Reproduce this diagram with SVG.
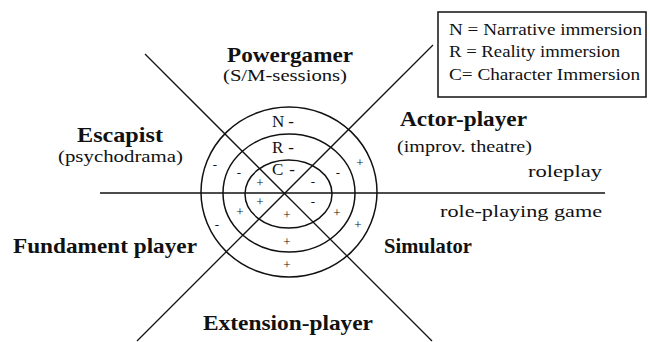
<svg xmlns="http://www.w3.org/2000/svg" width="650" height="342" viewBox="0 0 650 342" font-family="Liberation Serif, DejaVu Serif, serif">
<style>
.ln{stroke:#111;stroke-width:1.3;fill:none}
.rg{fill:none;stroke:#111;stroke-width:1.5}
.lb{font-weight:bold;font-size:21px;fill:#111}
.sb{font-size:17px;fill:#111}
.lg{font-size:16px;fill:#111}
.nrc{font-size:17px;fill:#111}
.pm{font-size:13px;text-anchor:middle;fill:#111}
</style>
<rect width="650" height="342" fill="#fff"/>
<g id="connectors">
<line class="ln" x1="100" y1="193" x2="605" y2="193"/>
<line class="ln" x1="145" y1="54" x2="432" y2="341"/>
<line class="ln" x1="433" y1="45" x2="137" y2="341"/>
</g>
<g id="rings">
<ellipse class="rg" cx="289" cy="192" rx="88" ry="85"/>
<ellipse class="rg" cx="289" cy="193" rx="66" ry="59"/>
<ellipse class="rg" cx="288.5" cy="194" rx="43.5" ry="34"/>
</g>
<g id="ring-labels">
<text class="nrc" x="272" y="127">N<tspan dx="4">-</tspan></text>
<text class="nrc" x="272" y="153">R<tspan dx="5">-</tspan></text>
<text class="nrc" x="272" y="175">C<tspan dx="6">-</tspan></text>
</g>
<g id="signs">
<text class="pm" x="215" y="169">-</text>
<text class="pm" x="239" y="177">-</text>
<text class="pm" x="260" y="187">+</text>
<text class="pm" x="260" y="206">+</text>
<text class="pm" x="240" y="216">+</text>
<text class="pm" x="217" y="229">-</text>
<text class="pm" x="287" y="219">+</text>
<text class="pm" x="287" y="246">+</text>
<text class="pm" x="287" y="269">+</text>
<text class="pm" x="313" y="186">-</text>
<text class="pm" x="313" y="206">-</text>
<text class="pm" x="338" y="177">-</text>
<text class="pm" x="337" y="217">+</text>
<text class="pm" x="360" y="167">+</text>
<text class="pm" x="358" y="229">+</text>
</g>
<g id="powergamer">
<text class="lb" x="227" y="62" textLength="126" lengthAdjust="spacingAndGlyphs">Powergamer</text>
<text class="sb" x="223" y="81" textLength="124" lengthAdjust="spacingAndGlyphs">(S/M-sessions)</text>
</g>
<g id="escapist">
<text class="lb" x="77" y="142" textLength="86" lengthAdjust="spacingAndGlyphs">Escapist</text>
<text class="sb" x="58" y="162" textLength="125" lengthAdjust="spacingAndGlyphs">(psychodrama)</text>
</g>
<g id="actor-player">
<text class="lb" x="400" y="126" textLength="127" lengthAdjust="spacingAndGlyphs">Actor-player</text>
<text class="sb" x="397" y="152" textLength="135" lengthAdjust="spacingAndGlyphs">(improv. theatre)</text>
</g>
<g id="roleplay">
<text class="sb" x="528" y="177" textLength="74" lengthAdjust="spacingAndGlyphs">roleplay</text>
</g>
<g id="role-playing-game">
<text class="sb" x="440" y="217" textLength="162" lengthAdjust="spacingAndGlyphs">role-playing game</text>
</g>
<g id="simulator">
<text class="lb" x="384" y="253" textLength="88" lengthAdjust="spacingAndGlyphs">Simulator</text>
</g>
<g id="fundament-player">
<text class="lb" x="13" y="253" textLength="184" lengthAdjust="spacingAndGlyphs">Fundament player</text>
</g>
<g id="extension-player">
<text class="lb" x="203" y="330" textLength="170" lengthAdjust="spacingAndGlyphs">Extension-player</text>
</g>
<g id="legend">
<rect x="438" y="12" width="208" height="85" fill="#fff" stroke="#111" stroke-width="1.5"/>
<text class="lg" x="449" y="35" textLength="193" lengthAdjust="spacingAndGlyphs">N = Narrative immersion</text>
<text class="lg" x="449" y="57" textLength="171" lengthAdjust="spacingAndGlyphs">R = Reality immersion</text>
<text class="lg" x="449" y="80" textLength="191" lengthAdjust="spacingAndGlyphs">C= Character Immersion</text>
</g>
</svg>
